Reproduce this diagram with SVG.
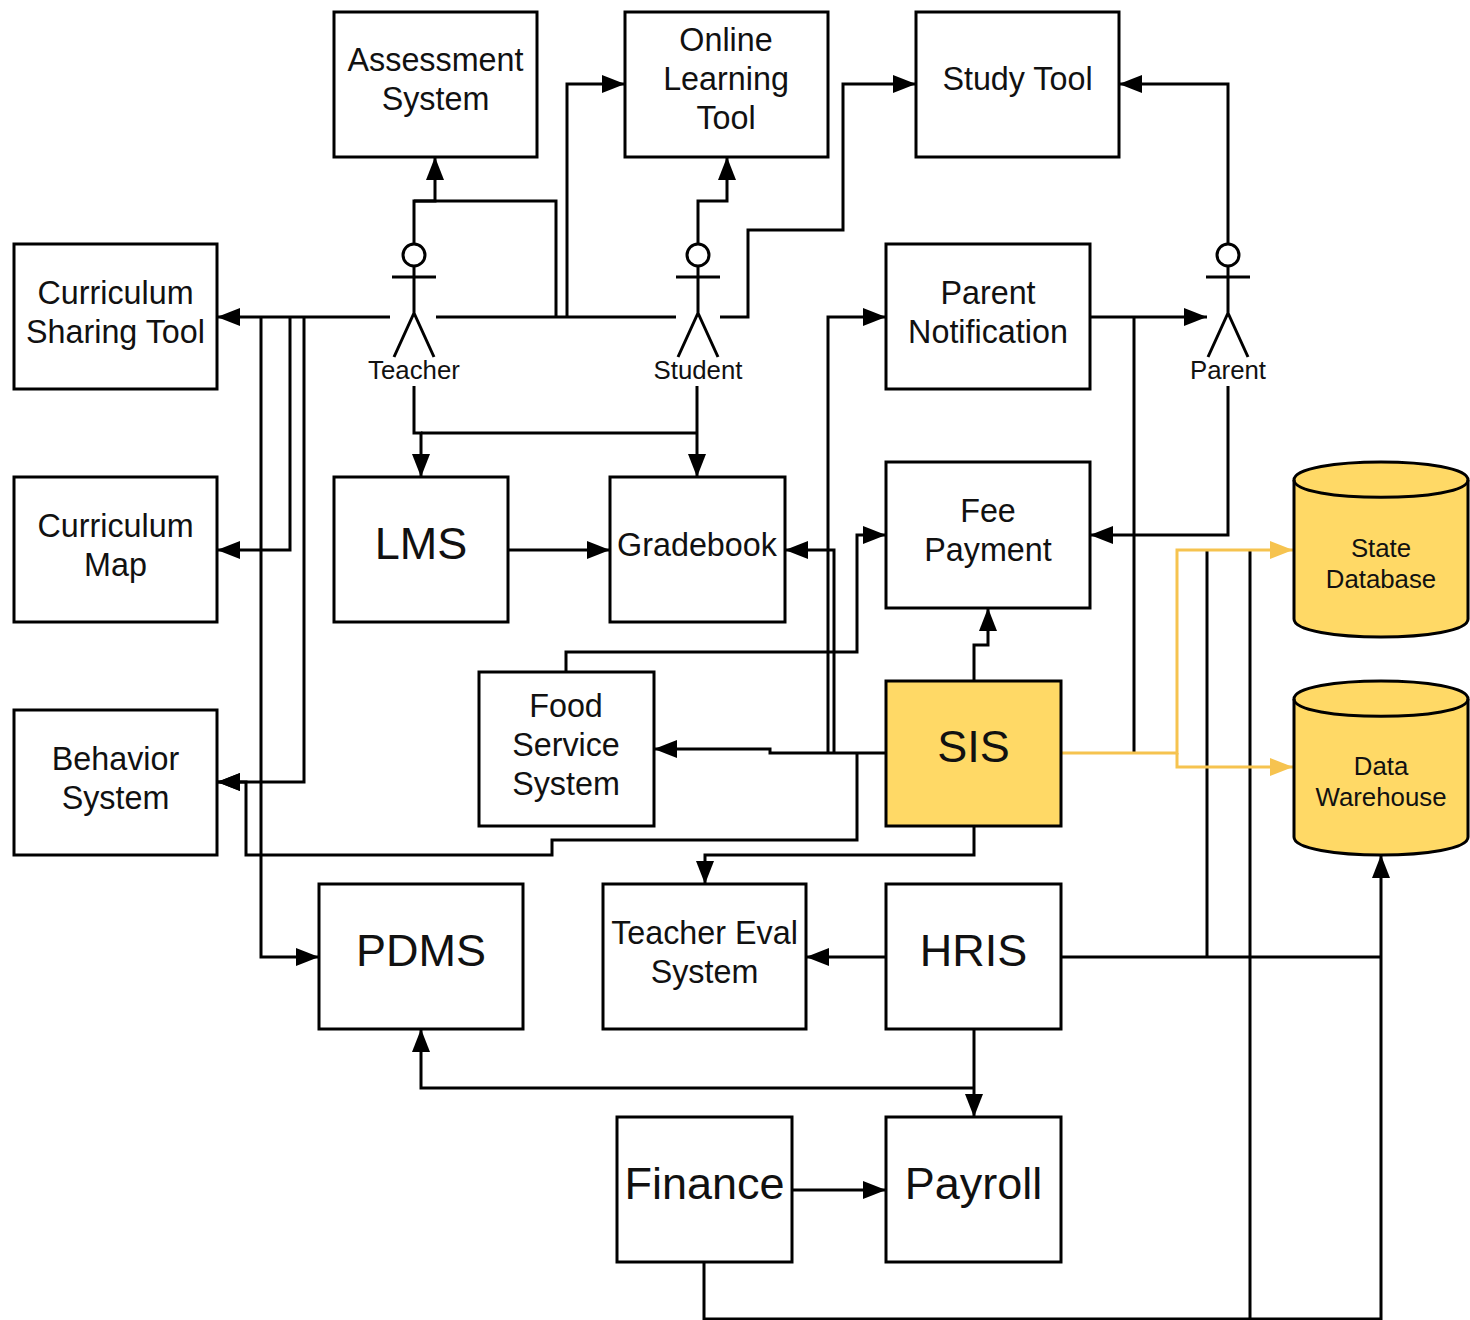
<svg xmlns="http://www.w3.org/2000/svg" width="1470" height="1320" viewBox="0 0 1470 1320">
<style>
.b{fill:#fff;stroke:#000;stroke-width:3}
.y{fill:#ffd966;stroke:#000;stroke-width:3}
.c{fill:none;stroke:#000;stroke-width:3}
.g{fill:none;stroke:#f6c34f;stroke-width:3}
text{font-family:"Liberation Sans",Arial,sans-serif;font-size:32.3px;text-anchor:middle;fill:#111}
.l{font-size:45px}
.m{font-size:25.8px}
</style>
<defs>
<marker id="a" markerUnits="userSpaceOnUse" markerWidth="24" markerHeight="20" refX="23" refY="9" orient="auto"><path d="M0 0L23 9L0 18Z" fill="#000"/></marker>
<marker id="ay" markerUnits="userSpaceOnUse" markerWidth="24" markerHeight="20" refX="23" refY="9" orient="auto"><path d="M0 0L23 9L0 18Z" fill="#f6c34f"/></marker>
</defs>
<rect width="1470" height="1320" fill="#fff"/>
<g id="connectors">
<path class="c" d="M414 243V201H435V157" marker-end="url(#a)"/>
<path class="c" d="M414 201H556V317"/>
<path class="c" d="M436 317H676"/>
<path class="c" d="M567 317V84H625" marker-end="url(#a)"/>
<path class="c" d="M698 243V201H727V157" marker-end="url(#a)"/>
<path class="c" d="M720 317H748V230H843V84H916" marker-end="url(#a)"/>
<path class="c" d="M390 317H217" marker-end="url(#a)"/>
<path class="c" d="M261 317V957H319" marker-end="url(#a)"/>
<path class="c" d="M290 317V550H217" marker-end="url(#a)"/>
<path class="c" d="M304 317V782H217" marker-end="url(#a)"/>
<path class="c" d="M414 386V433H421V477" marker-end="url(#a)"/>
<path class="c" d="M421 433H697"/>
<path class="c" d="M697 386V477" marker-end="url(#a)"/>
<path class="c" d="M508 550H610" marker-end="url(#a)"/>
<path class="c" d="M834 753V550H785" marker-end="url(#a)"/>
<path class="c" d="M828 753V317H886" marker-end="url(#a)"/>
<path class="c" d="M886 753H770V749H654" marker-end="url(#a)"/>
<path class="c" d="M857 753V840H552V855H246V782H217" marker-end="url(#a)"/>
<path class="c" d="M566 672V652H857V535H886" marker-end="url(#a)"/>
<path class="c" d="M974 681V645H988V608" marker-end="url(#a)"/>
<path class="c" d="M974 826V855H705V884" marker-end="url(#a)"/>
<path class="c" d="M886 957H806" marker-end="url(#a)"/>
<path class="c" d="M1061 957H1381"/>
<path class="c" d="M1207 957V550"/>
<path class="c" d="M1250 550V1319"/>
<path class="c" d="M704 1262V1319H1381V855" marker-end="url(#a)"/>
<path class="c" d="M974 1029V1117" marker-end="url(#a)"/>
<path class="c" d="M974 1088H421V1029" marker-end="url(#a)"/>
<path class="c" d="M792 1190H886" marker-end="url(#a)"/>
<path class="c" d="M1090 317H1207" marker-end="url(#a)"/>
<path class="c" d="M1134 317V753"/>
<path class="c" d="M1228 386V535H1090" marker-end="url(#a)"/>
<path class="c" d="M1228 243V84H1119" marker-end="url(#a)"/>
<path class="g" d="M1061 753H1177V550H1293" marker-end="url(#ay)"/>
<path class="g" d="M1177 753V767H1293" marker-end="url(#ay)"/>
</g>
<g id="assessment"><rect class="b" x="334" y="12" width="203" height="145"/><text x="435.500" y="71">Assessment</text><text x="435.500" y="110">System</text></g>
<g id="online"><rect class="b" x="625" y="12" width="203" height="145"/><text x="726" y="51">Online</text><text x="726" y="90">Learning</text><text x="726" y="129">Tool</text></g>
<g id="study"><rect class="b" x="916" y="12" width="203" height="145"/><text x="1017.500" y="90">Study Tool</text></g>
<g id="sharing"><rect class="b" x="14" y="244" width="203" height="145"/><text x="115.500" y="304">Curriculum</text><text x="115.500" y="343">Sharing Tool</text></g>
<g id="map"><rect class="b" x="14" y="477" width="203" height="145"/><text x="115.500" y="537">Curriculum</text><text x="115.500" y="576">Map</text></g>
<g id="behavior"><rect class="b" x="14" y="710" width="203" height="145"/><text x="115.500" y="770">Behavior</text><text x="115.500" y="809">System</text></g>
<g id="notification"><rect class="b" x="886" y="244" width="204" height="145"/><text x="988" y="304">Parent</text><text x="988" y="343">Notification</text></g>
<g id="fee"><rect class="b" x="886" y="462" width="204" height="146"/><text x="988" y="522">Fee</text><text x="988" y="561">Payment</text></g>
<g id="lms"><rect class="b" x="334" y="477" width="174" height="145"/><text class="l" x="421" y="559">LMS</text></g>
<g id="gradebook"><rect class="b" x="610" y="477" width="175" height="145"/><text x="697" y="556">Gradebook</text></g>
<g id="food"><rect class="b" x="479" y="672" width="175" height="154"/><text x="566" y="717">Food</text><text x="566" y="756">Service</text><text x="566" y="795">System</text></g>
<g id="sis"><rect class="y" x="886" y="681" width="175" height="145"/><text class="l" x="973.500" y="762">SIS</text></g>
<g id="pdms"><rect class="b" x="319" y="884" width="204" height="145"/><text class="l" x="421" y="966">PDMS</text></g>
<g id="eval"><rect class="b" x="603" y="884" width="203" height="145"/><text x="704.500" y="944">Teacher Eval</text><text x="704.500" y="983">System</text></g>
<g id="hris"><rect class="b" x="886" y="884" width="175" height="145"/><text class="l" x="973.500" y="966">HRIS</text></g>
<g id="finance"><rect class="b" x="617" y="1117" width="175" height="145"/><text class="l" x="704.500" y="1199">Finance</text></g>
<g id="payroll"><rect class="b" x="886" y="1117" width="175" height="145"/><text class="l" x="973.500" y="1199">Payroll</text></g>
<g id="state"><path class="y" d="M1294 480C1294 456 1468 456 1468 480V619C1468 643 1294 643 1294 619Z"/><path class="c" d="M1294 480C1294 503 1468 503 1468 480"/><text class="m" x="1381" y="557">State</text><text class="m" x="1381" y="588">Database</text></g>
<g id="warehouse"><path class="y" d="M1294 699C1294 675 1468 675 1468 699V837C1468 861 1294 861 1294 837Z"/><path class="c" d="M1294 699C1294 722 1468 722 1468 699"/><text class="m" x="1381" y="775">Data</text><text class="m" x="1381" y="806">Warehouse</text></g>
<g id="teacher"><circle class="b" cx="414" cy="255" r="11"/><path class="c" d="M414 266V313M392 277H436M394 357L414 313L434 357"/><text class="m" x="414" y="379">Teacher</text></g>
<g id="student"><circle class="b" cx="698" cy="255" r="11"/><path class="c" d="M698 266V313M676 277H720M678 357L698 313L718 357"/><text class="m" x="698" y="379">Student</text></g>
<g id="parent"><circle class="b" cx="1228" cy="255" r="11"/><path class="c" d="M1228 266V313M1206 277H1250M1208 357L1228 313L1248 357"/><text class="m" x="1228" y="379">Parent</text></g>
</svg>
